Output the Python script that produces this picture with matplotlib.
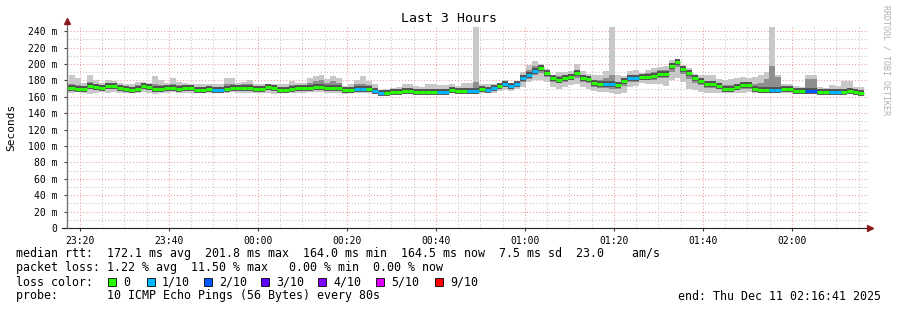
import numpy as np
import matplotlib.pyplot as plt
from matplotlib.patches import Rectangle

plt.rcParams['font.family'] = ['DejaVu Sans Mono']

# time in minutes relative to 00:00, one step = one 80 s probe round
t_start = -43.73
step = 80 / 60.0

median = [171,
          171, 169, 170, 173, 171.4, 171, 172.6, 172.6, 171, 169.5, 168.6, 170, 173, 172, 169, 169.5, 170.5, 171, 170,
          171, 171, 168.5, 168.5, 169, 168, 168, 170, 171, 171, 171, 171, 170, 170, 171.5, 171, 168, 168, 169,
          170.5, 170.5, 171, 172, 172, 171, 171, 171, 167.6, 167.6, 170, 170, 170, 166.5, 164.0, 165, 166, 166, 166.5,
          167, 166, 166, 166, 166, 166, 166, 167.6, 167, 167, 166.5, 166.5, 169, 168, 171, 173, 175.8, 172.6, 175,
          183, 186.4, 191.3, 194.5, 188.4, 183, 181, 183, 184.4, 188.4, 183, 181.6, 176.7, 176, 176, 175, 174.5, 178.7, 183,
          183, 184.4, 184.4, 185.6, 188, 188, 197.7, 201.8, 193.7, 188.4, 182.3, 179, 175, 175, 173, 170, 169.5, 171.8, 174, 174,
          170, 167.6, 168, 168, 168, 169, 169, 167, 167, 167, 167, 166, 166, 166, 166, 166, 167, 166, 164.5]

ping_max = [177,
            186, 183, 177, 186, 181, 177, 180, 179, 177, 176, 176, 178, 178, 177, 185, 181, 177, 183, 178,
            177, 176, 176, 176, 176, 175, 176, 183, 183, 177, 178, 180, 175, 175, 175, 176, 175, 175, 179,
            177, 177, 183, 185, 186, 182, 185, 183, 173, 175, 180, 185, 179, 175, 168, 170, 171, 172, 175,
            176, 173, 172, 175, 175, 174, 174, 175, 173, 177, 177, 250, 176, 176, 176, 176, 181, 176, 178,
            190, 199, 203, 200, 194, 186, 190, 190, 191, 200, 191, 188, 186, 186, 191, 250, 186, 185, 191,
            192, 189, 193, 195, 196, 198, 205, 206, 199, 195, 188, 186, 186, 186, 182, 180, 182, 183, 184, 183,
            184, 187, 190, 250, 186, 176, 176, 173, 172, 186, 186, 172, 171, 174, 173, 179, 179, 172, 172]

ping_min = [165,
            164, 166, 165, 163, 164, 166, 165, 166, 165, 165, 164, 165, 166, 164, 163, 165, 164, 166, 165,
            165, 165, 164, 164, 165, 164, 164, 165, 166, 165, 165, 165, 164, 165, 164, 163, 164, 164, 165,
            165, 165, 166, 166, 166, 165, 165, 165, 163, 164, 165, 165, 165, 163, 162, 162, 163, 163, 164,
            163, 163, 163, 163, 163, 163, 163, 164, 164, 164, 163, 163, 164, 164, 165, 167, 168, 167, 169,
            172, 178, 180, 181, 178, 172, 170, 172, 174, 176, 172, 170, 167, 166, 166, 165, 163, 165, 172,
            173, 177, 176, 175, 175, 173, 180, 183, 178, 170, 168, 166, 165, 165, 164, 164, 164, 165, 165, 166,
            165, 164, 164, 164, 164, 165, 165, 164, 164, 164, 164, 164, 164, 164, 164, 164, 164, 164, 164]

band_hi = [174,
           176, 174, 173, 178, 175, 174, 176, 176, 174, 173, 172, 174, 176, 175, 176, 174, 173, 176, 174,
           174, 174, 172, 172, 172, 171, 172, 176, 176, 174, 175, 175, 173, 173, 174, 174, 172, 171, 174,
           174, 174, 177, 179, 180, 177, 179, 177, 170, 171, 175, 176, 174, 170, 166, 167, 168, 169, 170,
           170, 169, 168, 169, 169, 169, 169, 171, 170, 171, 170, 178, 172, 171, 173, 175, 178, 175, 177,
           186, 192, 197, 198, 191, 185, 185, 186, 188, 193, 187, 185, 180, 180, 183, 186, 178, 182, 187,
           187, 187, 189, 190, 192, 193, 201, 205, 197, 192, 185, 182, 179, 179, 177, 174, 174, 176, 178, 178,
           176, 177, 182, 197, 184, 172, 172, 170, 169, 182, 182, 169, 168, 169, 168, 170, 170, 169, 168]

band_lo = [168,
           168, 167, 167, 169, 168, 168, 169, 169, 168, 167, 166, 167, 169, 168, 166, 167, 167, 168, 167,
           168, 168, 166, 166, 167, 166, 166, 167, 168, 168, 168, 168, 167, 167, 168, 168, 166, 166, 167,
           167, 167, 168, 169, 169, 168, 168, 168, 165, 165, 167, 167, 167, 164, 163, 163, 164, 164, 165,
           165, 164, 164, 164, 164, 164, 164, 165, 165, 165, 164, 164, 166, 166, 168, 170, 172, 170, 172,
           178, 182, 186, 189, 184, 178, 177, 178, 180, 183, 178, 177, 172, 171, 171, 170, 169, 173, 178,
           178, 180, 180, 181, 183, 183, 190, 196, 188, 182, 177, 174, 171, 171, 169, 167, 166, 168, 170, 170,
           167, 165, 165, 165, 165, 166, 166, 165, 165, 165, 165, 164, 164, 164, 164, 164, 165, 164, 163]

loss = [0,
        0, 0, 0, 0, 0, 0, 0, 0, 0, 0, 0, 0, 0, 0, 0, 0, 0, 0, 0, 0, 0, 0, 0, 0,
        1, 1,
        0, 0, 0, 0, 0, 0, 0, 0, 0, 0, 0, 0, 0, 0, 0, 0, 0, 0, 0, 0, 0, 0,
        1, 1, 0, 1, 1,
        0, 0, 0, 0, 0, 0, 0, 0, 0,
        1, 1, 0, 0, 0, 1, 1, 0, 1, 1, 0,
        1, 1, 1, 1, 1, 1,
        0, 0, 0, 0, 0, 0, 0, 0, 0, 0, 0,
        1, 1, 0, 0, 1, 1,
        0, 0, 0, 0, 0, 0, 0, 0, 0, 0, 0, 0, 0, 0, 0, 0, 0, 0, 0, 0, 0, 0,
        1, 1, 0, 0, 0, 0, 2, 2, 0, 0, 1, 1, 0, 0, 0, 0]

y_ticks = [0, 20, 40, 60, 80, 100, 120, 140, 160, 180, 200, 220, 240]
y_labels = ["0", "20 m", "40 m", "60 m", "80 m", "100 m", "120 m", "140 m",
            "160 m", "180 m", "200 m", "220 m", "240 m"]
x_ticks = [-40, -20, 0, 20, 40, 60, 80, 100, 120]
x_labels = ["23:20", "23:40", "00:00", "00:20", "00:40", "01:00", "01:20", "01:40", "02:00"]

loss_colors = {0: "#26ff00", 1: "#00b8ff", 2: "#0059ff", 3: "#5e00ff",
               4: "#7e00ff", 5: "#dd00ff", 9: "#ff0000"}
legend_loss = [0, 1, 2, 3, 4, 5, 9]
legend_text = ["0", "1/10", "2/10", "3/10", "4/10", "5/10", "9/10"]
legend_x = [108, 147, 204, 261, 318, 376, 435]

W, H = 897, 310
fig = plt.figure(figsize=(W / 100, H / 100), dpi=100)
ax = fig.add_axes([67 / W, 82 / H, 801 / W, 201 / H])
ax.set_xlim(-42.92, 137.08)
ax.set_ylim(0, 245)

# grid
grid_kw = dict(lw=0.75, linestyle=(0, (1, 2)), zorder=1)
for v in range(10, 245, 10):
    if v % 20:
        ax.axhline(v, color="#c4c4c4", **grid_kw)
for v in range(-40, 137, 5):
    if v % 20:
        ax.axvline(v, color="#c4c4c4", **grid_kw)
for v in y_ticks[1:]:
    ax.axhline(v, color="#ee9a9a", **grid_kw)
for v in x_ticks:
    ax.axvline(v, color="#ee9a9a", **grid_kw)

n = len(median)
edges = t_start + step * np.arange(n + 1)


def ext(a):
    return list(a) + [a[-1]]


ax.fill_between(edges, ext(ping_min), ext(ping_max), step="post",
                color="#c8c8c8", lw=0, zorder=2)
ax.fill_between(edges, ext(band_lo), ext(band_hi), step="post",
                color="#8e8e8e", lw=0, zorder=3)
# dark smoke right around the median
ax.hlines(median, edges[:-1], edges[1:], colors="#505050", lw=4.2, zorder=4)
ax.hlines(median, edges[:-1], edges[1:],
          colors=[loss_colors[l] for l in loss], lw=2.2, zorder=5)

ax.set_yticks(y_ticks)
ax.set_yticklabels(y_labels)
ax.set_xticks(x_ticks)
ax.set_xticklabels(x_labels)
ax.tick_params(axis="both", labelsize=7, length=2, width=0.8, color="#404040")
ax.tick_params(axis="y", pad=5)
ax.tick_params(axis="x", pad=4)

for s in ["top", "right"]:
    ax.spines[s].set_visible(False)
ax.spines["left"].set_color("#707070")
ax.spines["bottom"].set_color("#202020")
ax.spines["bottom"].set_bounds(-44.0, 137.3)
ax.plot([0, 0], [0, 1.025], transform=ax.transAxes, color="#707070",
        lw=0.9, clip_on=False, zorder=6)
ax.plot([0], [1.03], transform=ax.transAxes, marker="^", color="#8b1a1a",
        markersize=4, clip_on=False, zorder=7)
ax.plot([1.003], [0], transform=ax.transAxes, marker=">", color="#8b1a1a",
        markersize=4, clip_on=False, zorder=7)

fig.text(0.5, 1 - 19 / H, "Last 3 Hours", ha="center", va="center", fontsize=9.5)
fig.text(11 / W, 1 - 127 / H, "Seconds", rotation=90, ha="center", va="center", fontsize=8)
fig.text(886 / W, 1 - 60 / H, "RRDTOOL / TOBI OETIKER", rotation=270,
         ha="center", va="center", fontsize=6, color="#b0b0b0")

fs = 8.4
rows_y = [254, 268, 282, 296]
fig.text(16 / W, 1 - rows_y[0] / H,
         "median rtt:  172.1 ms avg  201.8 ms max  164.0 ms min  164.5 ms now  7.5 ms sd  23.0    am/s",
         va="center", fontsize=fs)
fig.text(16 / W, 1 - rows_y[1] / H,
         "packet loss: 1.22 % avg  11.50 % max   0.00 % min  0.00 % now",
         va="center", fontsize=fs)
fig.text(16 / W, 1 - rows_y[2] / H, "loss color:", va="center", fontsize=fs)
for lx, lv, lt in zip(legend_x, legend_loss, legend_text):
    fig.patches.append(Rectangle((lx / W, 1 - (rows_y[2] + 4) / H), 8 / W, 8 / H,
                                 transform=fig.transFigure, facecolor=loss_colors[lv],
                                 edgecolor="#000000", lw=0.6))
    fig.text((lx + 15) / W, 1 - rows_y[2] / H, lt, va="center", fontsize=fs)
fig.text(16 / W, 1 - rows_y[3] / H,
         "probe:       10 ICMP Echo Pings (56 Bytes) every 80s",
         va="center", fontsize=fs)
fig.text(881 / W, 1 - rows_y[3] / H, "end: Thu Dec 11 02:16:41 2025",
         ha="right", va="center", fontsize=fs)

fig.savefig("out.png", dpi=100)
